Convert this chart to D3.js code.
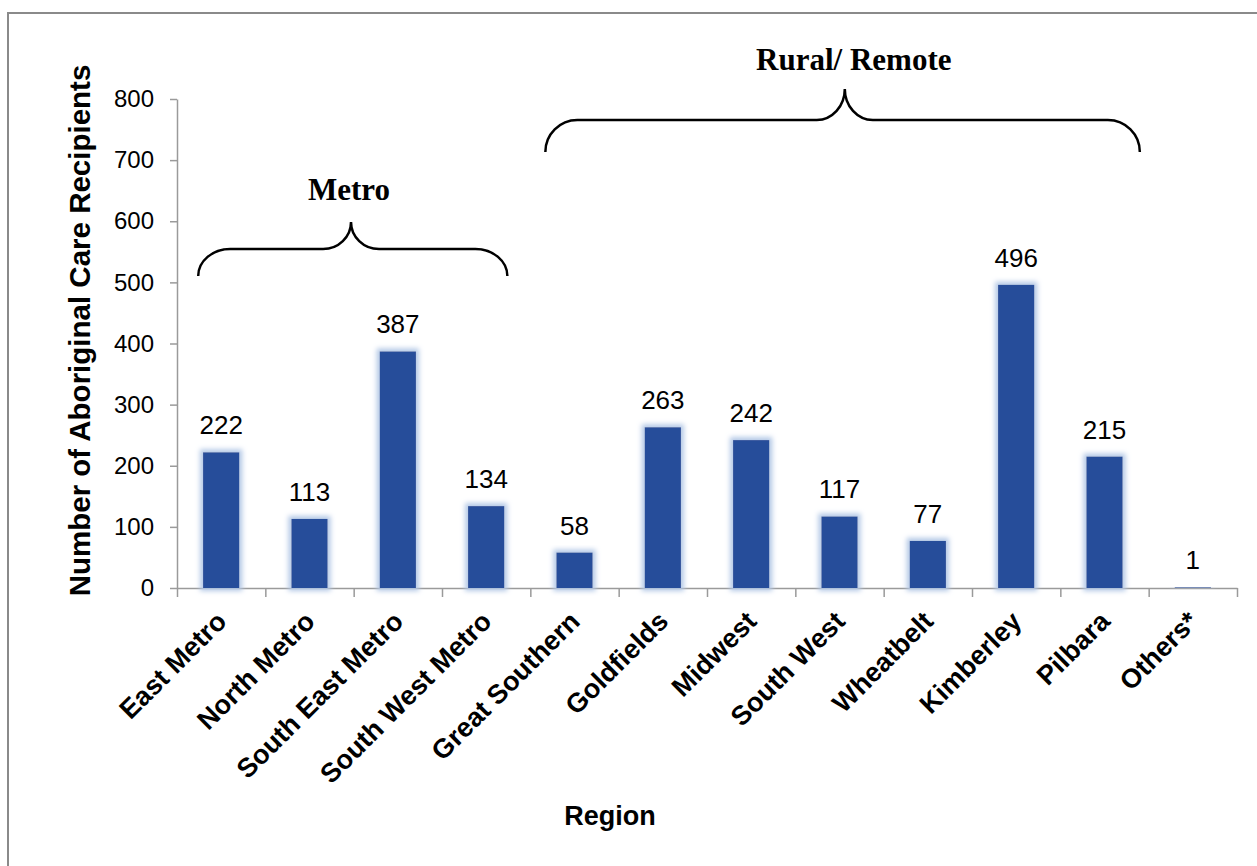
<!DOCTYPE html>
<html>
<head>
<meta charset="utf-8">
<script src="https://cdn.jsdelivr.net/npm/d3@7"></script>
<style>
  html, body { margin: 0; padding: 0; background: #fff; }
  svg { display: block; }
</style>
</head>
<body>
<svg id="chart" width="1257" height="866"></svg>
<script>
// ---- data ----
const categories = ["East Metro", "North Metro", "South East Metro", "South West Metro",
  "Great Southern", "Goldfields", "Midwest", "South West", "Wheatbelt", "Kimberley",
  "Pilbara", "Others*"];
const recipients = [222, 113, 387, 134, 58, 263, 242, 117, 77, 496, 215, 1];
const yTicks = [0, 100, 200, 300, 400, 500, 600, 700, 800];
const groupNames = ["Metro", "Rural/ Remote"];
const groupStart = [0.24, 4.17];   // in category-band units
const groupEnd = [3.74, 10.9];
const groupTip = [1.97, 7.56];
const yTitle = "Number of Aboriginal Care Recipients";
const xTitle = "Region";

// ---- layout ----
const svg = d3.select("#chart");
const plot = { left: 177, right: 1237, top: 99, bottom: 588 };

const x = d3.scaleBand().domain(categories).range([plot.left, plot.right])
  .paddingInner(0.59).paddingOuter(0.295);
const y = d3.scaleLinear().domain([0, 800]).range([plot.bottom, plot.top]);
const bandPos = d3.scaleLinear().domain([0, categories.length]).range([plot.left, plot.right]);

// frame
svg.append("rect").attr("x", 8).attr("y", 13).attr("width", 1270).attr("height", 880)
  .attr("fill", "none").attr("stroke", "#8a8a8a").attr("stroke-width", 2);

// glow filter
const defs = svg.append("defs");
const f = defs.append("filter").attr("id", "glow")
  .attr("x", "-60%").attr("y", "-20%").attr("width", "220%").attr("height", "140%");
f.append("feMorphology").attr("in", "SourceAlpha").attr("operator", "dilate").attr("radius", 3).attr("result", "d");
f.append("feGaussianBlur").attr("in", "d").attr("stdDeviation", 2.6).attr("result", "b");
f.append("feFlood").attr("flood-color", "#b3c8e6");
f.append("feComposite").attr("in2", "b").attr("operator", "in").attr("result", "g");
const m = f.append("feMerge");
m.append("feMergeNode").attr("in", "g");
m.append("feMergeNode").attr("in", "SourceGraphic");

// y axis
const yAxis = svg.append("g").attr("transform", `translate(${plot.left},0)`)
  .call(d3.axisLeft(y).tickValues(yTicks).tickSize(7).tickSizeOuter(0).tickPadding(16));
yAxis.select(".domain").attr("stroke", "#9a9a9a").attr("stroke-width", 1.5);
yAxis.selectAll(".tick line").attr("stroke", "#9a9a9a").attr("stroke-width", 1.5);
yAxis.selectAll(".tick text").attr("font-family", "Liberation Sans, Arial, sans-serif")
  .attr("font-size", 24).attr("fill", "#000");

// x axis (ticks at band boundaries)
const xAxis = svg.append("g").attr("transform", `translate(0,${plot.bottom})`)
  .call(d3.axisBottom(bandPos).ticks(categories.length).tickFormat("").tickSize(9).tickSizeOuter(0));
xAxis.select(".domain").attr("stroke", "#9a9a9a").attr("stroke-width", 1.5);
xAxis.selectAll(".tick line").attr("stroke", "#9a9a9a").attr("stroke-width", 1.5);

// bars
svg.append("g").selectAll("rect").data(categories).join("rect")
  .attr("x", d => x(d))
  .attr("y", (d, i) => y(recipients[i]))
  .attr("width", x.bandwidth())
  .attr("height", (d, i) => y(0) - y(recipients[i]))
  .attr("fill", "#264d9a")
  .attr("filter", "url(#glow)");

// value labels
svg.append("g").selectAll("text").data(categories).join("text")
  .attr("x", d => x(d) + x.bandwidth() / 2)
  .attr("y", (d, i) => y(recipients[i]) - 18)
  .attr("text-anchor", "middle")
  .attr("font-family", "Liberation Sans, Arial, sans-serif")
  .attr("font-size", 26).attr("fill", "#000")
  .text((d, i) => recipients[i]);

// category labels
svg.append("g").selectAll("text").data(categories).join("text")
  .attr("transform", d => `translate(${x(d) + x.bandwidth() / 2 + 7},${plot.bottom + 35}) rotate(-45)`)
  .attr("text-anchor", "end")
  .attr("font-family", "Liberation Sans, Arial, sans-serif")
  .attr("font-weight", "bold").attr("font-size", 27).attr("fill", "#000")
  .text(d => d);

// axis titles
svg.append("text")
  .attr("transform", `translate(90,${(63 + 598) / 2}) rotate(-90)`)
  .attr("text-anchor", "middle")
  .attr("font-family", "Liberation Sans, Arial, sans-serif")
  .attr("font-weight", "bold").attr("font-size", 29.5).attr("fill", "#000")
  .text(yTitle);

svg.append("text")
  .attr("x", 610).attr("y", 825)
  .attr("text-anchor", "middle")
  .attr("font-family", "Liberation Sans, Arial, sans-serif")
  .attr("font-weight", "bold").attr("font-size", 27).attr("fill", "#000")
  .text(xTitle);

// group braces
const braceY = [{ end: 276, h: 249, tip: 222, label: 200 }, { end: 152, h: 120, tip: 89, label: 70 }];
groupNames.forEach((name, gi) => {
  const x0 = bandPos(groupStart[gi]), x1 = bandPos(groupEnd[gi]), xm = bandPos(groupTip[gi]);
  const b = braceY[gi];
  const ry = b.end - b.h, r = 32, r2 = 28, ry2 = b.h - b.tip;
  const p = `M${x0},${b.end} A${r},${ry} 0 0 1 ${x0 + r},${b.h} L${xm - r2},${b.h} ` +
    `A${r2},${ry2} 0 0 0 ${xm},${b.tip} A${r2},${ry2} 0 0 0 ${xm + r2},${b.h} ` +
    `L${x1 - r},${b.h} A${r},${ry} 0 0 1 ${x1},${b.end}`;
  svg.append("path").attr("d", p).attr("fill", "none").attr("stroke", "#000").attr("stroke-width", 2.5);
  svg.append("text")
    .attr("x", xm + (gi === 1 ? 9 : -2)).attr("y", b.label)
    .attr("text-anchor", "middle")
    .attr("font-family", "Liberation Serif, Times New Roman, serif")
    .attr("font-weight", "bold").attr("font-size", 31).attr("fill", "#000")
    .text(name);
});
</script>
</body>
</html>
